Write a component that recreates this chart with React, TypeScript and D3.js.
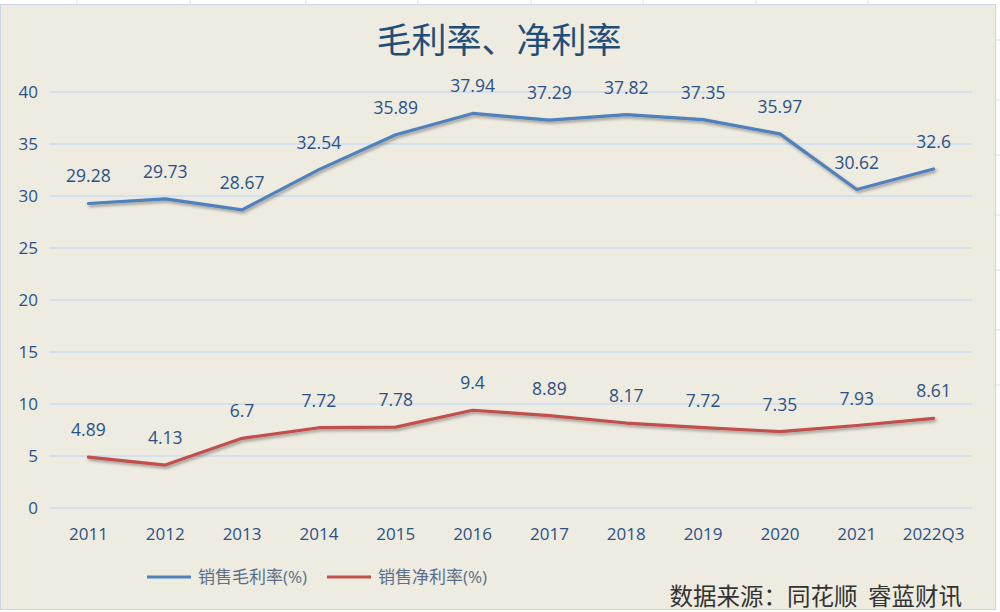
import React from "react";
import * as d3 from "d3";

const categories = ["2011","2012","2013","2014","2015","2016","2017","2018","2019","2020","2021","2022Q3"];
const grossMargin = [29.28,29.73,28.67,32.54,35.89,37.94,37.29,37.82,37.35,35.97,30.62,32.6];
const netMargin = [4.89,4.13,6.7,7.72,7.78,9.4,8.89,8.17,7.72,7.35,7.93,8.61];
const yTicks = [0,5,10,15,20,25,30,35,40];
const seriesNames = ["销售毛利率(%)","销售净利率(%)"];
const colors = ["#4F81BD","#C0504D"];

export default function App() {
  const W = 1000, H = 612;
  const x = d3.scaleBand<string>().domain(categories).range([50, 972]);
  const y = d3.scaleLinear().domain([0, 40]).range([508, 92]);
  const line = d3.line<number>()
    .x((_, i) => (x(categories[i]) as number) + x.bandwidth() / 2)
    .y(d => y(d));
  const font = "'Open Sans', 'Noto Sans CJK SC', sans-serif";
  const txt = "#2B5287";
  const series = [grossMargin, netMargin];
  return (
    <svg width={W} height={H} style={{ position: "absolute", left: 0, top: 0 }} fontFamily={font}>
      <defs>
        <filter id="sh" x="-5%" y="-20%" width="110%" height="160%">
          <feDropShadow dx="1.5" dy="2" stdDeviation="1.5" floodColor="#000" floodOpacity="0.35" />
        </filter>
      </defs>
      <rect x={0} y={0} width={W} height={H} fill="#ffffff" />
      {[77, 190, 306, 418, 531, 643, 756, 868].map((gx, i) => (
        <line key={"sg" + i} x1={gx} x2={gx} y1={0} y2={4} stroke="#D9DDE3" />
      ))}
      {[40, 100, 155, 215, 270, 330, 385].map((gy, i) => (
        <line key={"sr" + i} x1={996} x2={1000} y1={gy} y2={gy} stroke="#D9DDE3" />
      ))}
      <rect x={0.5} y={4.5} width={995} height={605} fill="#EEEBE1" stroke="#CBD7E8" />
      <text x={499} y={53} textAnchor="middle" fontSize={35} fill="#1F4E79" fontFamily="'Noto Sans CJK SC', sans-serif">毛利率、净利率</text>
      {yTicks.map(t => (
        <g key={t}>
          <line x1={50} x2={972} y1={y(t)} y2={y(t)} stroke="#C9DDF3" strokeWidth={1.3} />
          <text x={38} y={y(t)} dy="0.35em" textAnchor="end" fontSize={17} fill={txt}>{t}</text>
        </g>
      ))}
      {categories.map(c => (
        <text key={c} x={(x(c) as number) + x.bandwidth() / 2} y={540} textAnchor="middle" fontSize={17} fill={txt}>{c}</text>
      ))}
      {series.map((s, si) => (
        <g key={si}>
          <path d={line(s) as string} fill="none" stroke={colors[si]} strokeWidth={3.2} strokeLinejoin="round" strokeLinecap="round" filter="url(#sh)" />
          {s.map((v, i) => (
            <text key={i} x={(x(categories[i]) as number) + x.bandwidth() / 2} y={y(v) - 21} textAnchor="middle" fontSize={17.5} fill={txt}>{v}</text>
          ))}
        </g>
      ))}
      <g>
        <line x1={147} x2={191} y1={577} y2={577} stroke={colors[0]} strokeWidth={3.2} />
        <text x={198} y={577} dy="0.35em" fontSize={17} fill="#5C6F89">{seriesNames[0]}</text>
        <line x1={327} x2={371} y1={577} y2={577} stroke={colors[1]} strokeWidth={3.2} />
        <text x={378} y={577} dy="0.35em" fontSize={17} fill="#5C6F89">{seriesNames[1]}</text>
      </g>
      <text x={962} y={605} textAnchor="end" fontSize={23.5} fill="#333333" fontFamily="'Noto Sans CJK SC', sans-serif" style={{ whiteSpace: "pre" }}>{"数据来源：同花顺  睿蓝财讯"}</text>
    </svg>
  );
}
